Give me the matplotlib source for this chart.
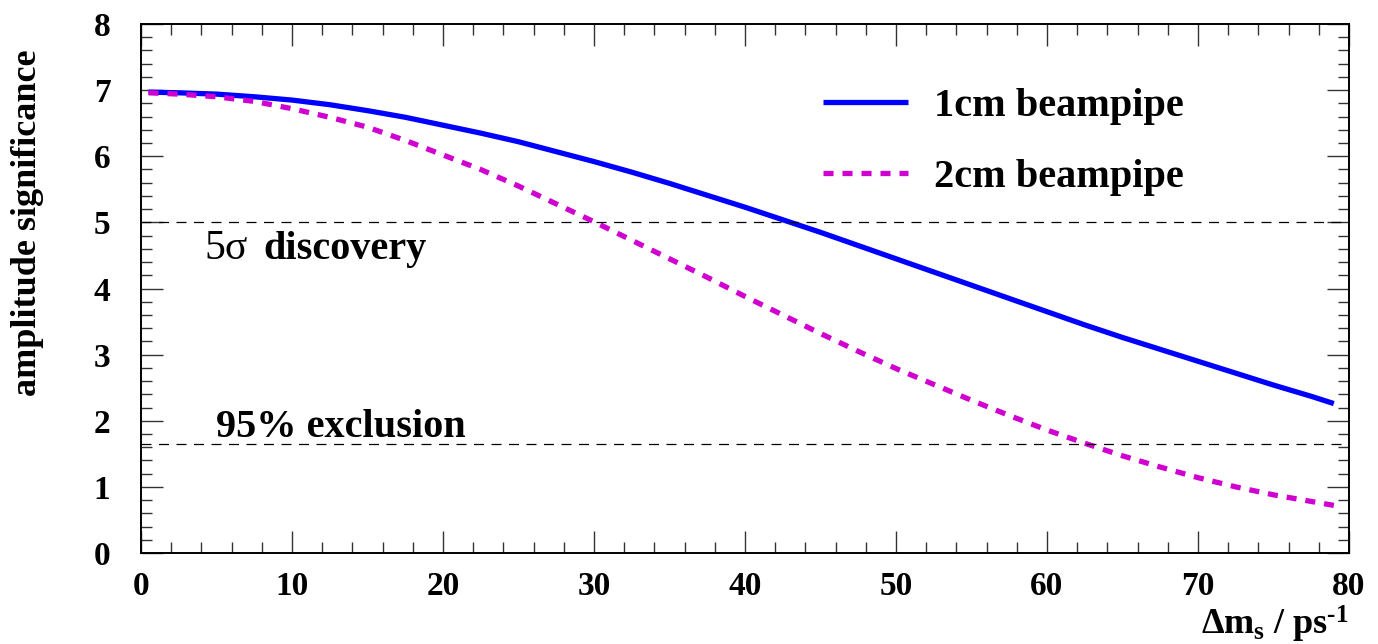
import matplotlib
matplotlib.use("Agg")
import matplotlib.pyplot as plt
from matplotlib.ticker import MultipleLocator

# Oscillation frequency (ps^-1) and amplitude significance for two beampipe radii
dms = [0.5, 2.5, 5, 7.5, 10, 12.5, 15, 17.5, 20, 22.5, 25, 27.5, 30, 32.5,
       35, 37.5, 40, 42.5, 45, 47.5, 50, 52.5, 55, 57.5, 60, 62.5, 65, 67.5,
       70, 72.5, 75, 77.5, 79]
sig_1cm = [6.97, 6.96, 6.94, 6.90, 6.85, 6.78, 6.69, 6.59, 6.47, 6.35, 6.22,
           6.07, 5.92, 5.76, 5.59, 5.41, 5.23, 5.04, 4.85, 4.65, 4.45, 4.25,
           4.05, 3.85, 3.65, 3.45, 3.26, 3.08, 2.90, 2.72, 2.54, 2.37, 2.26]
sig_2cm = [6.96, 6.94, 6.90, 6.83, 6.72, 6.59, 6.44, 6.24, 6.02, 5.80, 5.55,
           5.28, 5.01, 4.73, 4.45, 4.17, 3.88, 3.60, 3.32, 3.05, 2.79, 2.55,
           2.31, 2.08, 1.86, 1.66, 1.47, 1.30, 1.14, 1.00, 0.88, 0.78, 0.72]

labels = ["1cm beampipe", "2cm beampipe"]
discovery_level = 5.0
exclusion_level = 1.645

plt.rcParams["font.family"] = ["Liberation Serif", "DejaVu Serif"]
plt.rcParams["font.weight"] = "bold"
plt.rcParams["mathtext.fontset"] = "custom"
plt.rcParams["mathtext.rm"] = "Liberation Serif:bold"
plt.rcParams["mathtext.it"] = "Liberation Serif:bold"
plt.rcParams["mathtext.bf"] = "Liberation Serif:bold"

fig = plt.figure(figsize=(13.78, 6.44), dpi=100)
ax = fig.add_axes([0.1023, 0.1413, 0.8766, 0.8214])

ax.plot(dms, sig_1cm, color="#0000ff", lw=3.8, solid_capstyle="butt",
        solid_joinstyle="round", label=labels[0])
ax.plot(dms, sig_2cm, color="#d000d0", lw=3.8, dashes=(1.9, 1.7),
        dash_capstyle="butt", label=labels[1])

ax.axhline(discovery_level, color="black", lw=0.9, dashes=(8, 6))
ax.axhline(exclusion_level, color="black", lw=0.9, dashes=(8, 6))

ax.text(4.2, 4.45, "5σ", fontsize=30, fontweight="normal")
ax.text(8.1, 4.45, "discovery", fontsize=29, fontweight="bold")
ax.text(5.0, 1.76, "95% exclusion", fontsize=29, fontweight="bold")

ax.set_xlim(0, 80)
ax.set_ylim(0, 8)
ax.xaxis.set_major_locator(MultipleLocator(10))
ax.xaxis.set_minor_locator(MultipleLocator(2))
ax.yaxis.set_major_locator(MultipleLocator(1))
ax.yaxis.set_minor_locator(MultipleLocator(0.2))

ax.tick_params(which="both", direction="in", top=True, right=True,
               color="#333333", width=1.0)
ax.tick_params(which="major", length=16)
ax.tick_params(which="minor", length=8)
ax.tick_params(axis="x", which="major", labelsize=24, pad=13)
ax.tick_params(axis="y", which="major", labelsize=24, pad=22)
for lab in ax.get_xticklabels() + ax.get_yticklabels():
    lab.set_fontweight("bold")
for sp in ax.spines.values():
    sp.set_linewidth(1.4)

ax.set_ylabel("amplitude significance", fontsize=26, fontweight="bold",
              loc="top")
ax.yaxis.set_label_coords(-0.080, 0.951)
ax.set_xlabel(r"$\Delta m_{s}$ / ps$^{\text{-}1}$", fontsize=26,
              fontweight="bold", loc="right")
ax.xaxis.set_label_coords(1.0, -0.097)

ax.legend(loc="upper left", bbox_to_anchor=(0.565, 0.88), frameon=False,
          fontsize=29, handlelength=2.1, handletextpad=0.65,
          labelspacing=0.85, borderpad=0, borderaxespad=0)

fig.savefig("out.png", dpi=100)
